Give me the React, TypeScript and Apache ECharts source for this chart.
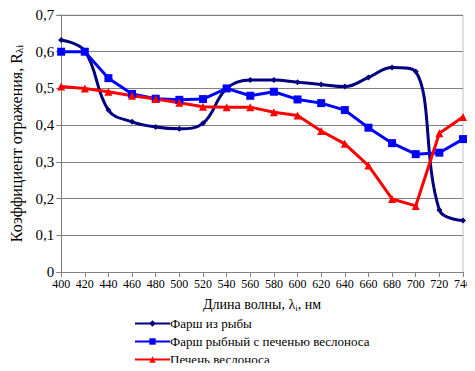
import React, { useEffect, useRef } from "react";
import * as echarts from "echarts";

const categories = ["400","420","440","460","480","500","520","540","560","580","600","620","640","660","680","700","720","740"];
const farshRyby = [0.632,0.602,0.441,0.409,0.395,0.39,0.405,0.5,0.523,0.523,0.517,0.511,0.505,0.53,0.557,0.546,0.169,0.14];
const farshPechen = [0.60,0.60,0.528,0.485,0.472,0.469,0.471,0.50,0.48,0.491,0.47,0.46,0.441,0.393,0.351,0.321,0.325,0.362];
const pechen = [0.505,0.50,0.491,0.48,0.471,0.461,0.45,0.449,0.449,0.435,0.426,0.384,0.349,0.29,0.199,0.18,0.378,0.422];
const yTicks = ["0","0,1","0,2","0,3","0,4","0,5","0,6","0,7"];
const seriesNames = ["Фарш из рыбы", "Фарш рыбный с печенью веслоноса", "Печень веслоноса"];

const FONT = "Liberation Serif";
const txt = (size: number) => ({ fontFamily: FONT, fontSize: size, color: "#000" });

export default function App() {
  const ref = useRef<HTMLDivElement>(null);
  useEffect(() => {
    if (!ref.current) return;
    const chart = echarts.init(ref.current, null, { renderer: "svg" });
    const legendTops = [317, 335, 353];
    chart.setOption({
      animation: false,
      textStyle: { fontFamily: FONT, color: "#000" },
      grid: { left: 57, right: 12, top: 15, bottom: 99 },
      legend: seriesNames.map((n, i) => ({
        left: 134,
        top: legendTops[i],
        padding: 0,
        itemWidth: 35,
        itemHeight: 8,
        textStyle: { ...txt(13), padding: [0, 0, 0, -5] },
        data: [n],
      })),
      xAxis: {
        type: "category",
        data: categories,
        boundaryGap: false,
        axisLine: { lineStyle: { color: "#808080", width: 1 } },
        axisTick: { show: true, length: 5, alignWithLabel: true, lineStyle: { color: "#808080" } },
        axisLabel: { interval: 0, hideOverlap: false, ...txt(12), margin: 6 },
        splitLine: { show: false },
        name: "{a|Длина волны, λ}{s|i}{a|, нм}",
        nameLocation: "middle",
        nameGap: 25,
        nameTextStyle: {
          ...txt(14),
          rich: {
            a: txt(14),
            s: { ...txt(9), verticalAlign: "bottom", padding: [6, 0, 0, 0] },
          },
        },
      },
      yAxis: {
        type: "value",
        min: 0,
        max: 0.7,
        interval: 0.1,
        axisLine: { show: true, lineStyle: { color: "#808080" } },
        axisTick: { show: true, length: 5, lineStyle: { color: "#808080" } },
        axisLabel: {
          ...txt(15),
          margin: 7,
          formatter: (v: number) => yTicks[Math.round(v * 10)],
        },
        splitLine: { show: true, lineStyle: { color: "#808080", width: 1 } },
        name: "{a|Коэффициент отражения, R}{s|λi}",
        nameLocation: "middle",
        nameGap: 36,
        nameTextStyle: {
          ...txt(16),
          rich: {
            a: txt(16),
            s: { ...txt(11), verticalAlign: "bottom", padding: [6, 0, 0, 0] },
          },
        },
      },
      series: [
        {
          name: seriesNames[0],
          type: "line",
          data: farshRyby,
          smooth: 0.4,
          symbol: "diamond",
          symbolSize: 6,
          itemStyle: { color: "#000080" },
          lineStyle: { color: "#000080", width: 3 },
        },
        {
          name: seriesNames[1],
          type: "line",
          data: farshPechen,
          symbol: "rect",
          symbolSize: 8,
          itemStyle: { color: "#0000FF" },
          lineStyle: { color: "#0000FF", width: 3 },
        },
        {
          name: seriesNames[2],
          type: "line",
          data: pechen,
          symbol: "triangle",
          symbolSize: 8,
          itemStyle: { color: "#FF0000" },
          lineStyle: { color: "#FF0000", width: 3 },
        },
      ],
      graphic: [
        { type: "line", shape: { x1: 57, y1: 15, x2: 463, y2: 15 }, style: { stroke: "#c0c0c0", lineWidth: 1 } },
        { type: "line", shape: { x1: 463, y1: 15, x2: 463, y2: 272 }, style: { stroke: "#c0c0c0", lineWidth: 1 } },
      ],
    });
    return () => chart.dispose();
  }, []);
  return <div ref={ref} style={{ width: 475, height: 371, margin: -8 }} />;
}
